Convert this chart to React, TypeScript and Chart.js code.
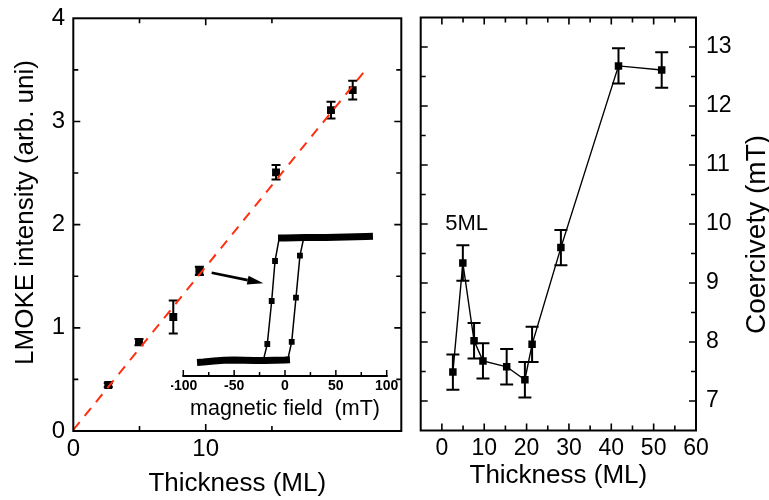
import React, { useEffect, useRef } from "react";
import { Chart, registerables } from "chart.js";

Chart.register(...registerables);

const FONT = "'Liberation Sans', Arial, Helvetica, sans-serif";
Chart.defaults.font.family = FONT;
Chart.defaults.color = "#000";

// ---------- Left panel: LMOKE intensity vs thickness ----------
const thicknessL = [2.64, 4.96, 7.55, 9.52, 15.31, 19.46, 21.1];
const intensity = [0.446, 0.862, 1.105, 1.553, 2.507, 3.11, 3.304];
const intensityErr = [0.02, 0.03, 0.16, 0.04, 0.07, 0.08, 0.09];
const fitX = [0, 22.2];
const fitY = [0.01, 3.52];
const arrowFrom = [10.45, 1.534];
const arrowTo = [14.35, 1.431];
const leftXTickLabels = [0, 10, 20];
const leftYTickLabels = [0, 1, 2, 3, 4];
const leftXTitle = "Thickness (ML)";
const leftYTitle = "LMOKE intensity (arb. uni)";

// ---------- Inset: hysteresis loop ----------
const upperField = [-6.9, 0, 10, 20, 30, 40, 50, 60, 70, 80, 86.5];
const upperSignal = [0.996, 0.996, 0.998, 1.0, 1.0, 1.0, 1.003, 1.004, 1.006, 1.008, 1.01];
const lowerField = [-86.5, -80, -70, -60, -50, -40, -30, -20, -10, 0, 4.9];
const lowerSignal = [-0.012, -0.008, 0.0, 0.006, 0.008, 0.006, 0.004, 0.004, 0.006, 0.008, 0.01];
const downField = [-5.6, -9.8, -13.1, -17.4, -20.6];
const downSignal = [1.0, 0.81, 0.486, 0.138, 0.03];
const upField = [3.2, 6.6, 10.8, 14.7, 18];
const upSignal = [0.03, 0.156, 0.513, 0.853, 0.98];
const insetXTickLabels = [-100, -50, 0, 50, 100];
const insetXTitle = "magnetic field  (mT)";

// ---------- Right panel: coercivity vs thickness ----------
const thicknessR = [2.6, 4.95, 7.6, 9.7, 15.3, 19.6, 21.3, 28.1, 41.7, 51.9];
const coercivity = [7.49, 9.34, 8.02, 7.68, 7.58, 7.36, 7.96, 9.6, 12.68, 12.61];
const coercivityErr = [0.3, 0.3, 0.3, 0.3, 0.3, 0.3, 0.3, 0.3, 0.3, 0.3];
const rightXTickLabels = [0, 10, 20, 30, 40, 50, 60];
const rightYTickLabels = [7, 8, 9, 10, 11, 12, 13];
const rightXTitle = "Thickness (ML)";
const rightYTitle = "Coercivety (mT)";
const peakNote = "5ML";
const peakNotePos = [0.8, 9.9];

const RED = "#ff2f0f";

const isLabel = (list: number[], v: number) => list.some((l) => Math.abs(l - v) < 1e-7);
const toXY = (xs: number[], ys: number[]) => xs.map((x, i) => ({ x, y: ys[i] }));

// frame with inward ticks on all four sides
const framePlugin = (majX: number[], majY: number[]) => ({
  id: "frame",
  afterDatasetsDraw(chart: any) {
    const { ctx, chartArea: a, scales } = chart;
    ctx.save();
    ctx.strokeStyle = "#000";
    ctx.lineWidth = 2;
    ctx.strokeRect(a.left, a.top, a.right - a.left, a.bottom - a.top);
    ctx.beginPath();
    ctx.lineWidth = 1.6;
    scales.x.ticks.forEach((t: any) => {
      const p = scales.x.getPixelForValue(t.value);
      if (p <= a.left + 1 || p >= a.right - 1) return;
      const len = isLabel(majX, t.value) ? 7 : 5;
      ctx.moveTo(p, a.bottom);
      ctx.lineTo(p, a.bottom - len);
      ctx.moveTo(p, a.top);
      ctx.lineTo(p, a.top + len);
    });
    scales.y.ticks.forEach((t: any) => {
      const p = scales.y.getPixelForValue(t.value);
      if (p <= a.top + 1 || p >= a.bottom - 1) return;
      const len = isLabel(majY, t.value) ? 7 : 5;
      ctx.moveTo(a.left, p);
      ctx.lineTo(a.left + len, p);
      ctx.moveTo(a.right, p);
      ctx.lineTo(a.right - len, p);
    });
    ctx.stroke();
    ctx.restore();
  },
});

const errorBarPlugin = (dsIndex: number, errs: number[], cap: number) => ({
  id: "errorBars",
  beforeDatasetsDraw(chart: any) {
    const { ctx, scales } = chart;
    const meta = chart.getDatasetMeta(dsIndex);
    const data = chart.data.datasets[dsIndex].data;
    ctx.save();
    ctx.strokeStyle = "#000";
    ctx.lineWidth = 2;
    meta.data.forEach((pt: any, i: number) => {
      const v = data[i].y;
      const top = scales.y.getPixelForValue(v + errs[i]);
      const bot = scales.y.getPixelForValue(v - errs[i]);
      ctx.beginPath();
      ctx.moveTo(pt.x, top);
      ctx.lineTo(pt.x, bot);
      ctx.moveTo(pt.x - cap, top);
      ctx.lineTo(pt.x + cap, top);
      ctx.moveTo(pt.x - cap, bot);
      ctx.lineTo(pt.x + cap, bot);
      ctx.stroke();
    });
    ctx.restore();
  },
});

const rotatedTitlePlugin = (text: string, x: number, y: number, size: number) => ({
  id: "rotTitle",
  afterDraw(chart: any) {
    const { ctx } = chart;
    ctx.save();
    ctx.font = `${size}px ${FONT}`;
    ctx.fillStyle = "#000";
    ctx.textAlign = "center";
    ctx.textBaseline = "alphabetic";
    ctx.translate(x, y);
    ctx.rotate(-Math.PI / 2);
    ctx.fillText(text, 0, 0);
    ctx.restore();
  },
});

const arrowPlugin = {
  id: "arrow",
  afterDatasetsDraw(chart: any) {
    const { ctx, scales } = chart;
    const x1 = scales.x.getPixelForValue(arrowFrom[0]);
    const y1 = scales.y.getPixelForValue(arrowFrom[1]);
    const x2 = scales.x.getPixelForValue(arrowTo[0]);
    const y2 = scales.y.getPixelForValue(arrowTo[1]);
    const ang = Math.atan2(y2 - y1, x2 - x1);
    const head = 16;
    const hw = 4.5;
    const bx = x2 - head * Math.cos(ang);
    const by = y2 - head * Math.sin(ang);
    ctx.save();
    ctx.strokeStyle = "#000";
    ctx.fillStyle = "#000";
    ctx.lineWidth = 2.6;
    ctx.beginPath();
    ctx.moveTo(x1, y1);
    ctx.lineTo(bx, by);
    ctx.stroke();
    ctx.beginPath();
    ctx.moveTo(x2, y2);
    ctx.lineTo(bx - hw * Math.sin(ang), by + hw * Math.cos(ang));
    ctx.lineTo(bx + hw * Math.sin(ang), by - hw * Math.cos(ang));
    ctx.closePath();
    ctx.fill();
    ctx.restore();
  },
};

const notePlugin = {
  id: "note",
  afterDatasetsDraw(chart: any) {
    const { ctx, scales } = chart;
    ctx.save();
    ctx.font = `22px ${FONT}`;
    ctx.fillStyle = "#000";
    ctx.textAlign = "left";
    ctx.textBaseline = "alphabetic";
    ctx.fillText(peakNote, scales.x.getPixelForValue(peakNotePos[0]), scales.y.getPixelForValue(peakNotePos[1]));
    ctx.restore();
  },
};

const insetAxisPlugin = {
  id: "insetAxis",
  afterDatasetsDraw(chart: any) {
    const { ctx, chartArea: a, scales } = chart;
    ctx.save();
    ctx.strokeStyle = "#000";
    ctx.lineWidth = 2;
    ctx.beginPath();
    ctx.moveTo(a.left - 1, a.bottom);
    ctx.lineTo(a.right + 1, a.bottom);
    ctx.stroke();
    ctx.lineWidth = 1.5;
    ctx.beginPath();
    scales.x.ticks.forEach((t: any) => {
      const p = scales.x.getPixelForValue(t.value);
      const len = isLabel(insetXTickLabels, t.value) ? 6 : 4;
      ctx.moveTo(p, a.bottom);
      ctx.lineTo(p, a.bottom - len);
    });
    ctx.stroke();
    ctx.restore();
  },
};

const noPad = (s: any) => {
  s.paddingLeft = 0;
  s.paddingRight = 0;
  s.paddingTop = 0;
  s.paddingBottom = 0;
};

const leftConfig = (): any => ({
  type: "scatter",
  data: {
    datasets: [
      {
        data: toXY(fitX, fitY),
        showLine: true,
        borderColor: RED,
        borderWidth: 2,
        borderDash: [10, 8],
        pointRadius: 0,
      },
      {
        data: toXY(thicknessL, intensity),
        showLine: false,
        pointStyle: "rect",
        pointRadius: 5.6,
        pointBorderWidth: 0,
        pointBackgroundColor: "#000",
      },
    ],
  },
  options: {
    responsive: false,
    animation: false,
    events: [],
    layout: { padding: { top: 18.3, right: 8.7, left: 0, bottom: 0 } },
    plugins: { legend: { display: false }, tooltip: { enabled: false } },
    scales: {
      x: {
        type: "linear",
        min: 0,
        max: 24.77,
        grid: { display: false, drawTicks: false },
        border: { display: false },
        ticks: {
          stepSize: 5,
          autoSkip: false,
          maxRotation: 0,
          padding: 3.5,
          font: { size: 24 },
          color: "#000",
          callback: (v: number) => (isLabel(leftXTickLabels, v) ? String(v) : ""),
        },
        title: {
          display: true,
          text: leftXTitle,
          font: { size: 26 },
          color: "#000",
          padding: { top: 0, bottom: 1 },
        },
        afterFit: (s: any) => {
          s.height = 69;
          noPad(s);
        },
      },
      y: {
        type: "linear",
        min: 0,
        max: 4,
        grid: { display: false, drawTicks: false },
        border: { display: false },
        ticks: {
          stepSize: 0.5,
          autoSkip: false,
          padding: 8.3,
          font: { size: 24 },
          color: "#000",
          callback: (v: number) => (isLabel(leftYTickLabels, v) ? String(v) : ""),
        },
        afterFit: (s: any) => {
          s.width = 73.3;
          noPad(s);
        },
      },
    },
  },
  plugins: [
    errorBarPlugin(1, intensityErr, 4.5),
    framePlugin(leftXTickLabels, leftYTickLabels),
    arrowPlugin,
    rotatedTitlePlugin(leftYTitle, 33, 212.5, 26),
  ],
});

const insetConfig = (): any => ({
  type: "scatter",
  data: {
    datasets: [
      {
        data: toXY(downField, downSignal),
        showLine: true,
        borderColor: "#000",
        borderWidth: 1.5,
        pointStyle: "rect",
        pointRadius: [0, 4.1, 4.1, 4.1, 0],
        pointBorderWidth: 0,
        pointBackgroundColor: "#000",
      },
      {
        data: toXY(upField, upSignal),
        showLine: true,
        borderColor: "#000",
        borderWidth: 1.5,
        pointStyle: "rect",
        pointRadius: [0, 4.1, 4.1, 4.1, 0],
        pointBorderWidth: 0,
        pointBackgroundColor: "#000",
      },
      {
        data: toXY(upperField, upperSignal),
        showLine: true,
        borderColor: "#000",
        borderWidth: 7,
        borderCapStyle: "butt",
        pointRadius: 0,
      },
      {
        data: toXY(lowerField, lowerSignal),
        showLine: true,
        borderColor: "#000",
        borderWidth: 7,
        borderCapStyle: "butt",
        pointRadius: 0,
      },
    ],
  },
  options: {
    responsive: false,
    animation: false,
    events: [],
    layout: { padding: { top: 10.7, right: 14.3, left: 12.3, bottom: 0 } },
    plugins: { legend: { display: false }, tooltip: { enabled: false } },
    scales: {
      x: {
        type: "linear",
        min: -100,
        max: 100,
        grid: { display: false, drawTicks: false },
        border: { display: false },
        ticks: {
          stepSize: 25,
          autoSkip: false,
          maxRotation: 0,
          padding: 1.6,
          font: { size: 14, weight: "bold" },
          color: "#000",
          callback: (v: number) => (isLabel(insetXTickLabels, v) ? String(v) : ""),
        },
        title: {
          display: true,
          text: insetXTitle,
          font: { size: 21.5 },
          color: "#000",
          padding: { top: 0, bottom: 2 },
        },
        afterFit: (s: any) => {
          s.height = 48;
          noPad(s);
        },
      },
      y: {
        type: "linear",
        display: false,
        min: -0.121,
        max: 1.12,
      },
    },
  },
  plugins: [insetAxisPlugin],
});

const rightConfig = (): any => ({
  type: "scatter",
  data: {
    datasets: [
      {
        data: toXY(thicknessR, coercivity),
        showLine: true,
        borderColor: "#000",
        borderWidth: 1.4,
        pointStyle: "rect",
        pointRadius: 5.3,
        pointBorderWidth: 0,
        pointBackgroundColor: "#000",
      },
    ],
  },
  options: {
    responsive: false,
    animation: false,
    events: [],
    layout: { padding: { top: 17.5, right: 0, left: 10.7, bottom: 0 } },
    plugins: { legend: { display: false }, tooltip: { enabled: false } },
    scales: {
      x: {
        type: "linear",
        min: -5,
        max: 60,
        grid: { display: false, drawTicks: false },
        border: { display: false },
        ticks: {
          stepSize: 5,
          autoSkip: false,
          maxRotation: 0,
          padding: 4,
          font: { size: 23 },
          color: "#000",
          callback: (v: number) => (isLabel(rightXTickLabels, v) ? String(v) : ""),
        },
        title: {
          display: true,
          text: rightXTitle,
          font: { size: 26 },
          color: "#000",
          padding: { top: 0, bottom: 9 },
        },
        afterFit: (s: any) => {
          s.height = 69.5;
          noPad(s);
        },
      },
      y: {
        type: "linear",
        position: "right",
        min: 6.5,
        max: 13.5,
        grid: { display: false, drawTicks: false },
        border: { display: false },
        ticks: {
          stepSize: 0.5,
          autoSkip: false,
          padding: 10,
          font: { size: 23 },
          color: "#000",
          callback: (v: number) => (isLabel(rightYTickLabels, v) ? String(v) : ""),
        },
        afterFit: (s: any) => {
          s.width = 73;
          noPad(s);
        },
      },
    },
  },
  plugins: [
    errorBarPlugin(0, coercivityErr, 6.5),
    framePlugin(rightXTickLabels, rightYTickLabels),
    notePlugin,
    rotatedTitlePlugin(rightYTitle, 355, 234.5, 28),
  ],
});

function ChartCanvas(props: { make: () => any; left: number; top: number; width: number; height: number }) {
  const ref = useRef<HTMLCanvasElement>(null);
  useEffect(() => {
    const chart = new Chart(ref.current as HTMLCanvasElement, props.make());
    return () => chart.destroy();
  }, []);
  return (
    <canvas
      ref={ref}
      width={props.width}
      height={props.height}
      style={{ position: "absolute", left: props.left, top: props.top, width: props.width, height: props.height }}
    />
  );
}

export default function App() {
  return (
    <div style={{ position: "absolute", left: 0, top: 0, width: 769, height: 500, background: "#fff", overflow: "hidden" }}>
      <ChartCanvas make={leftConfig} left={0} top={0} width={410} height={500} />
      <ChartCanvas make={rightConfig} left={410} top={0} width={359} height={500} />
      <ChartCanvas make={insetConfig} left={171} top={212} width={230} height={212} />
    </div>
  );
}
